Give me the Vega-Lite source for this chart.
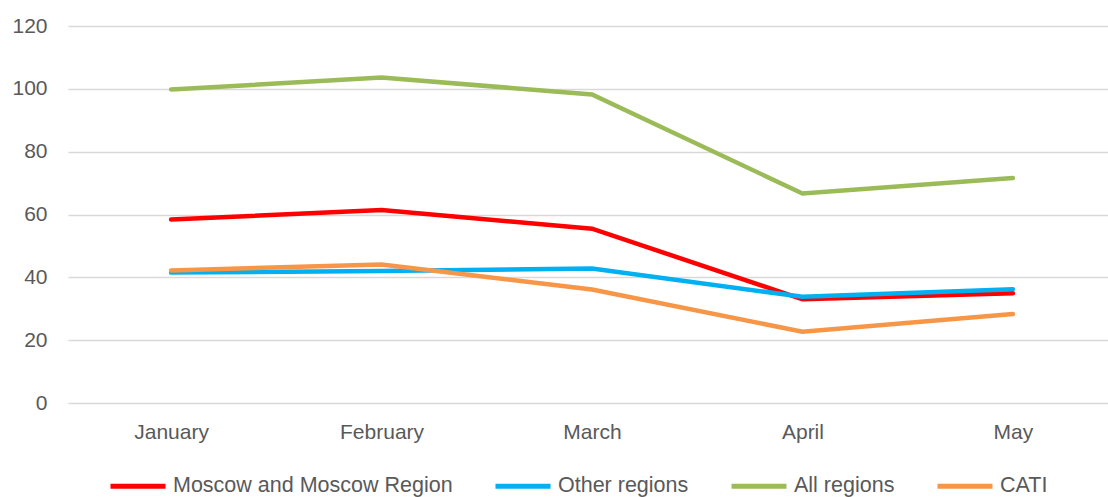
{
  "$schema": "https://vega.github.io/schema/vega-lite/v6.json",
  "autosize": {"type": "none"},
  "width": 1048,
  "height": 377,
  "padding": {"left": 68, "top": 26, "right": 0, "bottom": 94},
  "background": "white",
  "config": {
    "view": {"stroke": null},
    "font": "Liberation Sans",
    "axis": {"labelFont": "Liberation Sans", "labelColor": "#595959", "labelFontSize": 21}
  },
  "data": {
    "values": [
      {"month": "January", "series": "Moscow and Moscow Region", "value": 58.4},
      {"month": "February", "series": "Moscow and Moscow Region", "value": 61.4},
      {"month": "March", "series": "Moscow and Moscow Region", "value": 55.5},
      {"month": "April", "series": "Moscow and Moscow Region", "value": 33.0},
      {"month": "May", "series": "Moscow and Moscow Region", "value": 34.9},
      {"month": "January", "series": "Other regions", "value": 41.5},
      {"month": "February", "series": "Other regions", "value": 42.0},
      {"month": "March", "series": "Other regions", "value": 42.8},
      {"month": "April", "series": "Other regions", "value": 33.8},
      {"month": "May", "series": "Other regions", "value": 36.2},
      {"month": "January", "series": "All regions", "value": 99.8},
      {"month": "February", "series": "All regions", "value": 103.6},
      {"month": "March", "series": "All regions", "value": 98.2},
      {"month": "April", "series": "All regions", "value": 66.7},
      {"month": "May", "series": "All regions", "value": 71.6},
      {"month": "January", "series": "CATI", "value": 42.2},
      {"month": "February", "series": "CATI", "value": 44.1},
      {"month": "March", "series": "CATI", "value": 36.1},
      {"month": "April", "series": "CATI", "value": 22.7},
      {"month": "May", "series": "CATI", "value": 28.3}
    ]
  },
  "mark": {"type": "line", "strokeWidth": 4.5, "strokeCap": "round", "strokeJoin": "miter"},
  "encoding": {
    "x": {
      "field": "month",
      "type": "ordinal",
      "sort": ["January", "February", "March", "April", "May"],
      "scale": {"type": "point", "padding": 0.49},
      "axis": {"title": null, "labelAngle": 0, "domain": false, "ticks": false, "labelPadding": 18, "grid": false}
    },
    "y": {
      "field": "value",
      "type": "quantitative",
      "scale": {"domain": [0, 120], "nice": false},
      "axis": {"title": null, "values": [0, 20, 40, 60, 80, 100, 120], "domain": false, "ticks": false, "labelPadding": 21, "gridColor": "#d9d9d9", "gridWidth": 1.3}
    },
    "color": {
      "field": "series",
      "type": "nominal",
      "sort": ["Moscow and Moscow Region", "Other regions", "All regions", "CATI"],
      "scale": {
        "domain": ["Moscow and Moscow Region", "Other regions", "All regions", "CATI"],
        "range": ["#FF0000", "#00B0F0", "#9BBB59", "#F79646"]
      },
      "legend": {
        "title": null,
        "orient": "none",
        "legendX": 40,
        "legendY": 430,
        "direction": "horizontal",
        "symbolType": "stroke",
        "symbolSize": 3025,
        "symbolStrokeWidth": 5,
        "labelFontSize": 21.5,
        "labelLimit": 500,
        "labelColor": "#595959",
        "labelFont": "Liberation Sans",
        "labelOffset": 5,
        "columnPadding": 32
      }
    }
  }
}
